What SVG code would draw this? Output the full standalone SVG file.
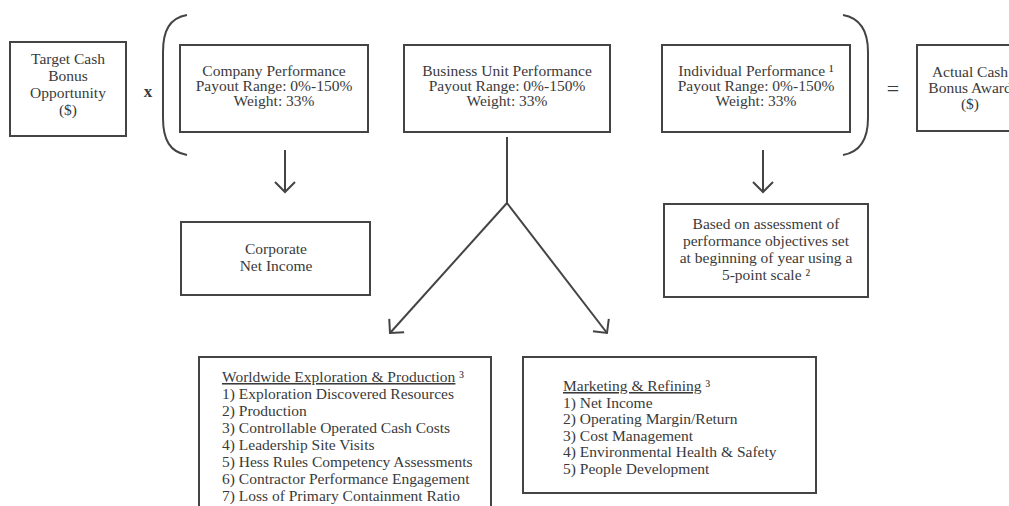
<svg xmlns="http://www.w3.org/2000/svg" width="1009" height="506" viewBox="0 0 1009 506">
<style>
.box{fill:#fff;stroke:#444;stroke-width:2}
.t{font-family:"Liberation Serif","Times New Roman",serif;font-size:15.5px;fill:#3a3a3a}
.c{text-anchor:middle}
.ln{fill:none;stroke:#444;stroke-width:2}
.u{text-decoration:underline}
</style>
<defs>
<marker id="ah" markerUnits="userSpaceOnUse" viewBox="0 0 14 24" markerWidth="14" markerHeight="24" refX="12" refY="12" orient="auto">
<path d="M2,2 L12,12 L2,22" fill="none" stroke="#444" stroke-width="2"/>
</marker>
</defs>
<rect width="1009" height="506" fill="#fff"/>

<g id="target">
<rect class="box" x="10" y="42" width="116" height="94"/>
<text class="t c" x="68" y="64">Target Cash</text>
<text class="t c" x="68" y="81">Bonus</text>
<text class="t c" x="68" y="98">Opportunity</text>
<text class="t c" x="68" y="115">($)</text>
</g>

<g id="times">
<text class="t c" x="148" y="97" style="font-weight:bold;font-size:17px">x</text>
</g>

<g id="brackets">
<path class="ln" d="M187,15 C170,18 163,30 163,52 L163,118 C163,140 170,152 187,155"/>
<path class="ln" d="M843,15 C860,18 868,30 868,52 L868,118 C868,140 860,152 843,155"/>
</g>

<g id="company">
<rect class="box" x="180" y="45" width="188" height="87"/>
<text class="t c" x="274" y="76">Company Performance</text>
<text class="t c" x="274" y="91">Payout Range: 0%-150%</text>
<text class="t c" x="274" y="106">Weight: 33%</text>
</g>

<g id="business">
<rect class="box" x="404" y="45" width="206" height="87"/>
<text class="t c" x="507" y="76">Business Unit Performance</text>
<text class="t c" x="507" y="91">Payout Range: 0%-150%</text>
<text class="t c" x="507" y="106">Weight: 33%</text>
</g>

<g id="individual">
<rect class="box" x="662" y="45" width="188" height="87"/>
<text class="t c" x="756" y="76">Individual Performance ¹</text>
<text class="t c" x="756" y="91">Payout Range: 0%-150%</text>
<text class="t c" x="756" y="106">Weight: 33%</text>
</g>

<g id="equals">
<text class="t c" x="893" y="96" style="font-size:22px">=</text>
</g>

<g id="actual">
<rect class="box" x="917" y="45" width="106" height="86"/>
<text class="t c" x="970" y="77">Actual Cash</text>
<text class="t c" x="970" y="93">Bonus Award</text>
<text class="t c" x="970" y="109">($)</text>
</g>

<g id="corporate">
<rect class="box" x="181" y="222" width="189" height="73"/>
<text class="t c" x="276" y="254">Corporate</text>
<text class="t c" x="276" y="271">Net Income</text>
</g>

<g id="assessment">
<rect class="box" x="664" y="204" width="204" height="93"/>
<text class="t c" x="766" y="229">Based on assessment of</text>
<text class="t c" x="766" y="246">performance objectives set</text>
<text class="t c" x="766" y="263">at beginning of year using a</text>
<text class="t c" x="766" y="280">5-point scale ²</text>
</g>

<g id="exploration">
<rect class="box" x="199" y="357" width="292" height="165"/>
<text class="t" x="222" y="382"><tspan class="u">Worldwide Exploration &amp; Production</tspan> ³</text>
<text class="t" x="222" y="399">1) Exploration Discovered Resources</text>
<text class="t" x="222" y="416">2) Production</text>
<text class="t" x="222" y="433">3) Controllable Operated Cash Costs</text>
<text class="t" x="222" y="450">4) Leadership Site Visits</text>
<text class="t" x="222" y="467">5) Hess Rules Competency Assessments</text>
<text class="t" x="222" y="484">6) Contractor Performance Engagement</text>
<text class="t" x="222" y="501">7) Loss of Primary Containment Ratio</text>
</g>

<g id="marketing">
<rect class="box" x="523" y="357" width="293" height="136"/>
<text class="t" x="563" y="391"><tspan class="u">Marketing &amp; Refining</tspan> ³</text>
<text class="t" x="563" y="407.5">1) Net Income</text>
<text class="t" x="563" y="424">2) Operating Margin/Return</text>
<text class="t" x="563" y="440.5">3) Cost Management</text>
<text class="t" x="563" y="457">4) Environmental Health &amp; Safety</text>
<text class="t" x="563" y="474">5) People Development</text>
</g>

<g id="connectors">
<line class="ln" x1="285" y1="150" x2="285" y2="192" marker-end="url(#ah)"/>
<line class="ln" x1="763" y1="150" x2="763" y2="192" marker-end="url(#ah)"/>
<line class="ln" x1="507" y1="137" x2="507" y2="203"/>
<line class="ln" x1="507" y1="203" x2="390" y2="333" marker-end="url(#ah)"/>
<line class="ln" x1="507" y1="203" x2="607" y2="333" marker-end="url(#ah)"/>
</g>
</svg>
